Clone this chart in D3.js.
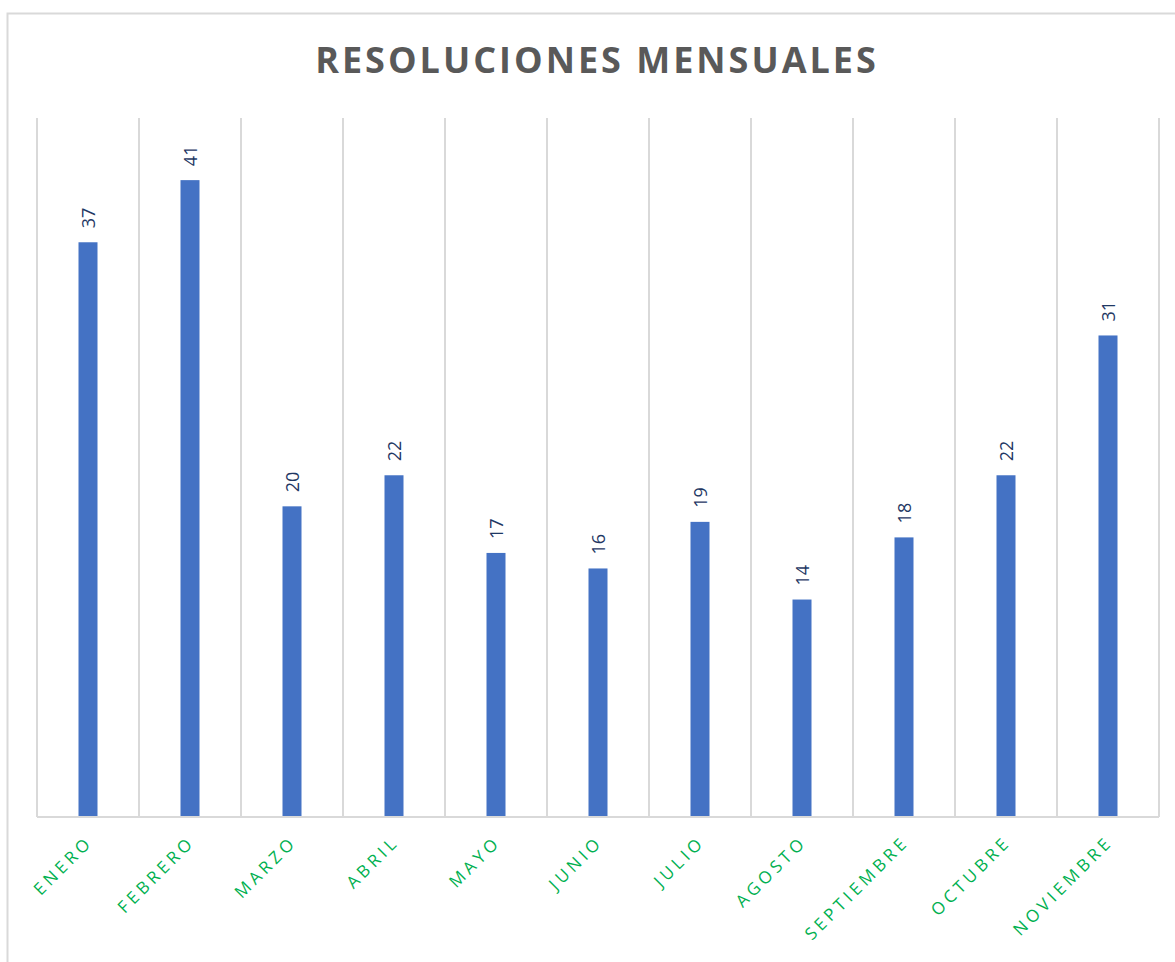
<!DOCTYPE html>
<html>
<head>
<meta charset="utf-8">
<script src="https://cdn.jsdelivr.net/npm/d3@7"></script>
<style>
  html, body { margin: 0; padding: 0; background: #fff; }
  svg { display: block; }
</style>
</head>
<body>
<svg id="chart" width="1175" height="962"></svg>
<script>
// Monthly resolutions
const months = ["ENERO", "FEBRERO", "MARZO", "ABRIL", "MAYO", "JUNIO", "JULIO", "AGOSTO", "SEPTIEMBRE", "OCTUBRE", "NOVIEMBRE"];
const resolutions = [37, 41, 20, 22, 17, 16, 19, 14, 18, 22, 31];
const yDomain = [0, 45];

const svg = d3.select("#chart");
const W = 1175, H = 962;
const plot = { left: 37, right: 1159, top: 118, bottom: 817 };

// Chart frame
svg.append("rect")
  .attr("x", 7.5).attr("y", 13.5)
  .attr("width", W + 20).attr("height", H + 20)
  .attr("fill", "#fff")
  .attr("stroke", "#d9d9d9").attr("stroke-width", 2);

// Title
svg.append("text")
  .attr("x", 597).attr("y", 73)
  .attr("text-anchor", "middle")
  .attr("font-family", "'Open Sans', sans-serif")
  .attr("font-weight", "bold")
  .attr("font-size", 36)
  .attr("letter-spacing", 3)
  .attr("fill", "#595959")
  .text("RESOLUCIONES MENSUALES");

const x = d3.scaleBand().domain(months).range([plot.left, plot.right]).paddingInner(0).paddingOuter(0);
const y = d3.scaleLinear().domain(yDomain).range([plot.bottom, plot.top]);

// Vertical category gridlines
const bounds = months.map(m => x(m)).concat([x(months[months.length - 1]) + x.bandwidth()]);
svg.append("g").selectAll("line").data(bounds).join("line")
  .attr("x1", d => d).attr("x2", d => d)
  .attr("y1", plot.top).attr("y2", plot.bottom)
  .attr("stroke", "#d9d9d9").attr("stroke-width", 2);

// Bars
const barW = 19;
svg.append("g").selectAll("rect").data(months).join("rect")
  .attr("x", (d) => x(d) + x.bandwidth() / 2 - barW / 2)
  .attr("y", (d, i) => y(resolutions[i]))
  .attr("width", barW)
  .attr("height", (d, i) => y(0) - y(resolutions[i]))
  .attr("fill", "#4472c4");

// Baseline
svg.append("line")
  .attr("x1", plot.left).attr("x2", plot.right)
  .attr("y1", plot.bottom).attr("y2", plot.bottom)
  .attr("stroke", "#d9d9d9").attr("stroke-width", 2);

// Value labels (rotated)
svg.append("g").selectAll("text").data(months).join("text")
  .attr("transform", (d, i) => `translate(${x(d) + x.bandwidth() / 2 + 7},${y(resolutions[i]) - 14}) rotate(-90)`)
  .attr("font-family", "'Open Sans', sans-serif")
  .attr("font-size", 18)
  .attr("fill", "#1f3864")
  .text((d, i) => resolutions[i]);

// Category labels (diagonal)
svg.append("g").selectAll("text").data(months).join("text")
  .attr("transform", d => `translate(${x(d) + x.bandwidth() / 2 + 6},${plot.bottom + 26}) rotate(-45)`)
  .attr("text-anchor", "end")
  .attr("font-family", "'Open Sans', sans-serif")
  .attr("font-size", 17)
  .attr("letter-spacing", 4)
  .attr("fill", "#00b050")
  .text(d => d);
</script>
</body>
</html>
